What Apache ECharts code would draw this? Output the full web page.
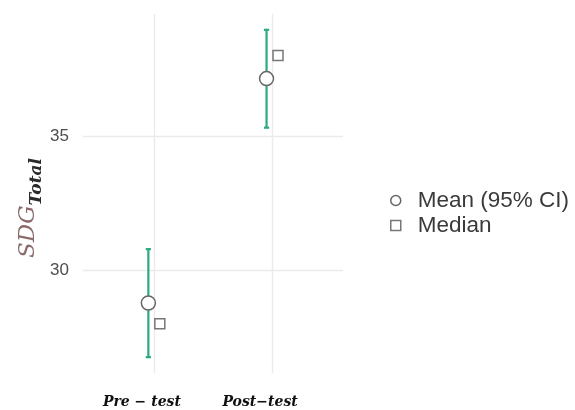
<!DOCTYPE html>
<html>
<head>
<meta charset="utf-8">
<script src="https://cdn.jsdelivr.net/npm/echarts@6/dist/echarts.min.js"></script>
<style>html,body{margin:0;padding:0;background:#fff;}#main{width:575px;height:410px;}</style>
</head>
<body>
<div id="main"></div>
<script>
// ---- data ----
var categories = ['Pre \u2212 test', 'Post\u2212test'];
var meanValues = [28.77, 37.14];
var ciLow = [26.75, 35.31];
var ciHigh = [30.78, 38.96];
var medianValues = [28.0, 38.0];
var yTicks = [30, 35];
var legendNames = ['Mean (95% CI)', 'Median'];

// dodge offsets (in category units)
var meanDodge = -0.047;
var medianDodge = 0.05;

var catPos = categories.map(function (c, i) { return i + 1; });
var errData = catPos.map(function (p, i) { return [p + meanDodge, ciLow[i], ciHigh[i]]; });
var meanData = catPos.map(function (p, i) { return [p + meanDodge, meanValues[i]]; });
var medianData = catPos.map(function (p, i) { return [p + medianDodge, medianValues[i]]; });

var green = '#2BA982';
var gridColor = '#EBEBEB';

var chart = echarts.init(document.getElementById('main'), null, {renderer: 'canvas'});
var option = {
  backgroundColor: '#fff',
  animation: false,
  grid: {left: 83, right: 232, top: 14, bottom: 37, containLabel: false},
  xAxis: {
    type: 'value', min: 0.4, max: 2.6,
    axisLine: {show: false},
    axisTick: {show: false, customValues: catPos},
    axisLabel: {
      customValues: catPos, margin: 22,
      formatter: function (v) { return categories[Math.round(v) - 1] || ''; },
      fontFamily: 'DejaVu Serif', fontStyle: 'italic', fontWeight: 'bold', fontSize: 14, color: '#111',
      padding: [0, 24, 0, 0]
    },
    splitLine: {show: true, lineStyle: {color: gridColor, width: 1.4}}
  },
  yAxis: {
    type: 'value', min: 26.16, max: 39.55,
    axisLine: {show: false},
    axisTick: {show: false, customValues: yTicks},
    axisLabel: {customValues: yTicks, margin: 14, fontFamily: 'Liberation Sans', fontSize: 17, color: '#4D4D4D'},
    splitLine: {show: true, lineStyle: {color: gridColor, width: 1.4}}
  },
  legend: {
    orient: 'vertical', left: 385, top: 184,
    itemWidth: 10, itemHeight: 10, itemGap: 2,
    textStyle: {fontFamily: 'Liberation Sans', fontSize: 22.5, lineHeight: 22, color: '#3A3A3A', padding: [0, 0, 0, 12]},
    data: [
      {name: legendNames[0], icon: 'circle', itemStyle: {color: '#fff', borderColor: '#666', borderWidth: 1.5}},
      {name: legendNames[1], icon: 'rect', itemStyle: {color: '#fff', borderColor: '#777', borderWidth: 1.5}}
    ]
  },
  graphic: [{
    type: 'text', x: 28, y: 208, rotation: Math.PI / 2,
    style: {
      text: '{a|SDG}{b|Total}', align: 'center', verticalAlign: 'middle',
      rich: {
        a: {fontFamily: 'DejaVu Serif', fontStyle: 'italic', fontSize: 23, fill: '#8A6A6A', lineHeight: 34, verticalAlign: 'middle'},
        b: {fontFamily: 'DejaVu Serif', fontStyle: 'italic', fontWeight: 'bold', fontSize: 17, fill: '#2A2A2A', lineHeight: 17, verticalAlign: 'bottom'}
      }
    }
  }],
  series: [
    {
      type: 'custom', name: 'ci', z: 2,
      data: errData,
      encode: {x: 0, y: [1, 2]},
      renderItem: function (params, api) {
        var x = api.value(0), lo = api.value(1), hi = api.value(2);
        var p1 = api.coord([x, hi]), p2 = api.coord([x, lo]);
        var cap = 2.6;
        var st = {stroke: green, lineWidth: 2.2};
        return {type: 'group', children: [
          {type: 'line', shape: {x1: p1[0], y1: p1[1], x2: p2[0], y2: p2[1]}, style: st},
          {type: 'line', shape: {x1: p1[0] - cap, y1: p1[1], x2: p1[0] + cap, y2: p1[1]}, style: st},
          {type: 'line', shape: {x1: p2[0] - cap, y1: p2[1], x2: p2[0] + cap, y2: p2[1]}, style: st}
        ]};
      }
    },
    {
      type: 'scatter', name: legendNames[0], z: 5,
      data: meanData, symbol: 'circle', symbolSize: 14,
      itemStyle: {color: '#fff', borderColor: '#666', borderWidth: 1.5, opacity: 1}
    },
    {
      type: 'scatter', name: legendNames[1], z: 5,
      data: medianData, symbol: 'rect', symbolSize: 10,
      itemStyle: {color: '#fff', borderColor: '#777', borderWidth: 1.5, opacity: 1}
    }
  ]
};
chart.setOption(option);
</script>
</body>
</html>
